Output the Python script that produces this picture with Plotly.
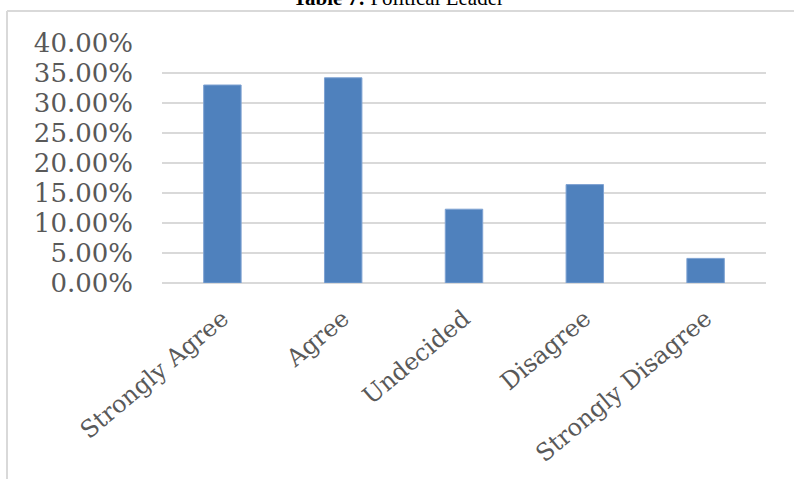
import plotly.graph_objects as go

categories = ["Strongly Agree", "Agree", "Undecided", "Disagree", "Strongly Disagree"]
values = [0.330, 0.342, 0.123, 0.164, 0.041]
y_ticks = [0, 0.05, 0.10, 0.15, 0.20, 0.25, 0.30, 0.35, 0.40]
y_tick_labels = [f"{v*100:.2f}%" for v in y_ticks]
title_text = "<b>Table 7:</b> Political Leader"

W, H = 794, 479
L, R, T, B = 162, 28, 43, 196

fig = go.Figure(go.Bar(
    x=categories, y=values,
    marker=dict(color="#4f81bd", line=dict(color="#7ea2d2", width=1)),
    width=0.31,
))

def px_x(p):
    return (p - L) / (W - L - R)

def px_y(p):
    return (H - B - p) / (H - T - B)

fig.update_layout(
    width=W, height=H,
    margin=dict(l=L, r=R, t=T, b=B, pad=0),
    paper_bgcolor="white", plot_bgcolor="white",
    showlegend=False,
    font=dict(family="DejaVu Serif", color="#595959"),
    xaxis=dict(
        tickangle=-40, tickfont=dict(size=24, family="DejaVu Serif", color="#595959"),
        showgrid=False, showline=False, zeroline=False,
        ticks="", ticklabelstandoff=16,
    ),
    yaxis=dict(
        range=[0, 0.40], tickvals=y_ticks, ticktext=y_tick_labels,
        tickfont=dict(size=26, family="DejaVu Serif", color="#595959"),
        showgrid=True, gridcolor="#d9d9d9", gridwidth=1.5,
        zeroline=True, zerolinecolor="#d9d9d9", zerolinewidth=1.5,
        showline=False, ticks="", ticklabelstandoff=28,
    ),
    shapes=[
        dict(type="line", xref="paper", yref="paper",
             x0=px_x(7), x1=px_x(7), y0=px_y(11), y1=px_y(H + 5),
             line=dict(color="#d9d9d9", width=2)),
        dict(type="line", xref="paper", yref="paper",
             x0=px_x(7), x1=px_x(W + 5), y0=px_y(11), y1=px_y(11),
             line=dict(color="#d9d9d9", width=2)),
    ],
    annotations=[
        dict(text=title_text, xref="paper", yref="paper",
             x=px_x(398), y=px_y(12), xanchor="center", yanchor="bottom",
             showarrow=False,
             font=dict(family="Liberation Serif", size=21, color="black")),
    ],
)

fig.write_html("out.html")
